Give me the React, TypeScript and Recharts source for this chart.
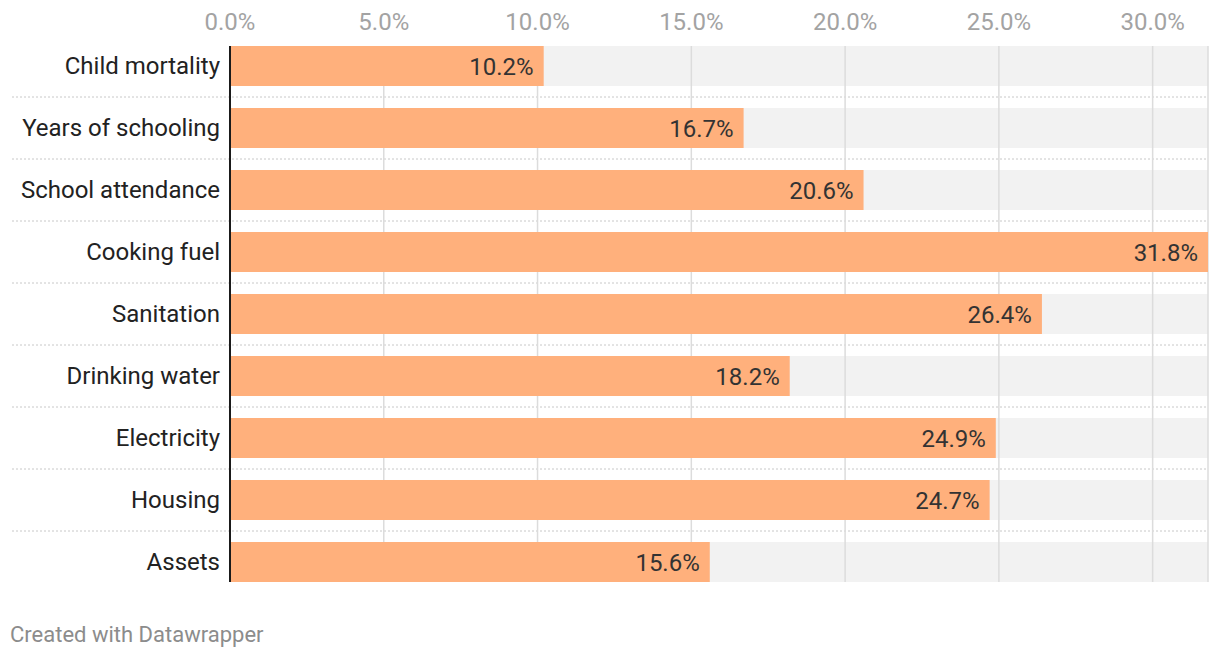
import { BarChart, Bar, XAxis, YAxis, CartesianGrid, LabelList } from "recharts";

const categories = [
  "Child mortality",
  "Years of schooling",
  "School attendance",
  "Cooking fuel",
  "Sanitation",
  "Drinking water",
  "Electricity",
  "Housing",
  "Assets",
];
const shares = [10.2, 16.7, 20.6, 31.8, 26.4, 18.2, 24.9, 24.7, 15.6];
const xTicks = [0, 5, 10, 15, 20, 25, 30];
const xMax = 31.8;

const data = categories.map((name, i) => ({ name, value: shares[i] }));

const W = 1220;
const H = 658;
const MARGIN = { top: 16, right: 12, bottom: 76, left: 0 };
const FONT = "Roboto, 'Noto Sans', sans-serif";
const fmt = (v: number) => `${v.toFixed(1)}%`;

function CategoryTick(props: any) {
  const { x, y, payload, index } = props;
  const last = index === categories.length - 1;
  return (
    <g>
      <text
        x={x}
        y={y}
        dy="0.32em"
        textAnchor="end"
        fill="#222"
        fontSize={24}
        fontFamily={FONT}
      >
        {payload.value}
      </text>
      {!last && (
        <line
          x1={12}
          x2={W - MARGIN.right}
          y1={y + 31}
          y2={y + 31}
          stroke="#c8c8c8"
          strokeDasharray="2 2"
        />
      )}
    </g>
  );
}

export default function App() {
  const yPad = { top: -11, bottom: -11 };
  return (
    <div
      style={{
        position: "absolute",
        left: 0,
        top: 0,
        width: W,
        height: H,
        background: "#fff",
        fontFamily: FONT,
      }}
    >
      {/* bottom layer: grey tracks, labels, separators */}
      <div style={{ position: "absolute", left: 0, top: 0 }}>
        <BarChart width={W} height={H} data={data} layout="vertical" margin={MARGIN}>
          <XAxis
            type="number"
            orientation="top"
            domain={[0, xMax]}
            ticks={xTicks}
            height={30}
            tick={false}
            axisLine={false}
            tickLine={false}
          />
          <YAxis
            type="category"
            dataKey="name"
            width={230}
            padding={yPad}
            axisLine={false}
            tickLine={false}
            tickSize={0}
            tickMargin={10}
            tick={<CategoryTick />}
            interval={0}
          />
          <Bar
            dataKey="value"
            barSize={40}
            fill="none"
            background={{ fill: "#f2f2f2" }}
            isAnimationActive={false}
          />
        </BarChart>
      </div>
      {/* top layer: grid, bars, values, axis */}
      <div style={{ position: "absolute", left: 0, top: 0 }}>
        <BarChart width={W} height={H} data={data} layout="vertical" margin={MARGIN}>
          <CartesianGrid horizontal={false} stroke="#dcdcdc" strokeWidth={1.5} />
          <XAxis
            type="number"
            orientation="top"
            domain={[0, xMax]}
            ticks={xTicks}
            allowDataOverflow
            height={30}
            axisLine={false}
            tickLine={false}
            tickSize={0}
            tickMargin={16}
            tickFormatter={fmt}
            tick={{ fill: "#a3a3a3", fontSize: 24, fontFamily: FONT }}
          />
          <YAxis
            type="category"
            dataKey="name"
            width={230}
            padding={yPad}
            tick={false}
            tickLine={false}
            axisLine={{ stroke: "#1a1a1a", strokeWidth: 2 }}
          />
          <Bar dataKey="value" barSize={40} fill="#ffb07c" isAnimationActive={false}>
            <LabelList
              dataKey="value"
              position="insideRight"
              offset={10}
              formatter={(v: any) => fmt(Number(v))}
              style={{ fill: "#333", fontSize: 24, fontFamily: FONT }}
            />
          </Bar>
        </BarChart>
      </div>
      <div
        style={{
          position: "absolute",
          left: 10,
          top: 622,
          fontSize: 22,
          color: "#8c8c8c",
          fontFamily: FONT,
        }}
      >
        Created with Datawrapper
      </div>
    </div>
  );
}
